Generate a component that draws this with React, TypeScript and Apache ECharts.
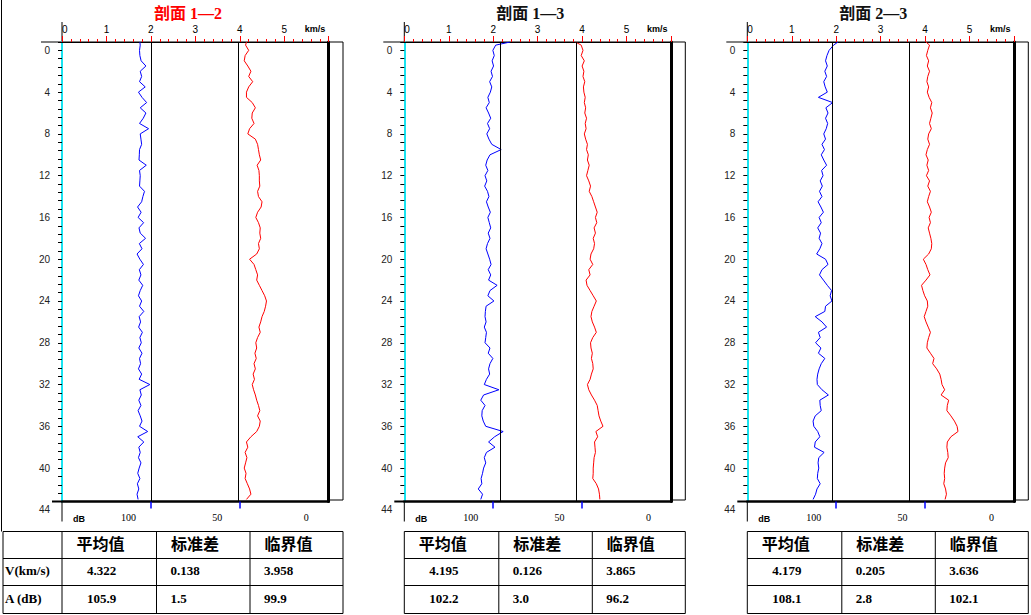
import React, { useEffect, useRef } from "react";
import * as echarts from "echarts";

// ---------- data ----------
const TITLES = ["剖面 1—2", "剖面 1—3", "剖面 2—3"];
const TITLE_COLORS = ["#ff0000", "#111111", "#111111"];

const DEPTH = [
  -0.8, -0.5, 0, 0.5, 1, 1.5, 2, 2.5, 3, 3.5,
  4, 4.5, 5, 5.5, 6, 6.5, 7, 7.5, 8, 8.5,
  9, 9.5, 10, 10.5, 11, 11.5, 12, 12.5, 13, 13.5,
  14, 14.5, 15, 15.5, 16, 16.5, 17, 17.5, 18, 18.5,
  19, 19.5, 20, 20.5, 21, 21.5, 22, 22.5, 23, 23.5,
  24, 24.5, 25, 25.5, 26, 26.5, 27, 27.5, 28, 28.5,
  29, 29.5, 30, 30.5, 31, 31.5, 32, 32.5, 33, 33.5,
  34, 34.5, 35, 35.5, 36, 36.5, 37, 37.5, 38, 38.5,
  39, 39.5, 40, 40.5, 41, 41.5, 42, 42.5, 43,
];

// amplitude A (dB), blue
const A_12 = [
  106.2, 106.0, 106.4, 106.2, 105.5, 102.8, 106.0, 105.2, 106.4, 103.2,
  107.0, 105.0, 102.4, 106.0, 102.8, 104.3, 106.4, 101.3, 106.0, 105.6,
  105.2, 106.4, 106.5, 106.7, 102.6, 106.4, 106.0, 106.2, 106.4, 103.6,
  104.5, 105.2, 107.5, 105.5, 107.2, 104.1, 106.7, 106.0, 103.0, 106.5,
  105.0, 107.8, 106.2, 104.2, 106.5, 105.6, 106.8, 104.6, 106.0, 107.0,
  105.2, 106.4, 104.0, 106.6, 105.8, 106.9, 104.8, 106.2, 105.4, 106.8,
  105.0, 106.4, 105.8, 107.0, 105.2, 106.6, 100.6, 106.2, 105.4, 106.8,
  105.6, 107.2, 106.0, 105.0, 106.4, 101.8, 107.4, 104.0, 106.8, 106.0,
  107.0, 105.6, 106.6, 107.4, 106.2, 107.6, 106.8, 107.8, 107.2,
];
const A_13 = [
  90.5, 98.6, 100.2, 99.4, 100.6, 99.8, 101.2, 100.4, 102.0, 100.8,
  101.6, 103.0, 102.2, 104.0, 102.6, 101.4, 103.2, 102.0, 103.6, 102.4,
  100.8, 95.5, 101.8, 103.4, 104.2, 103.0, 104.6, 103.6, 104.8, 103.2,
  102.4, 103.8, 102.8, 101.6, 103.0, 102.2, 101.4, 102.8, 101.8, 103.2,
  104.0, 103.0, 102.0, 101.2, 102.8, 101.4, 102.6, 97.8, 101.8, 103.0,
  99.6, 104.0, 104.4, 104.6, 104.0, 105.0, 103.8, 104.2, 104.6, 101.8,
  102.8, 100.2, 101.8, 102.6, 102.0, 103.8, 105.0, 96.8, 105.4, 107.0,
  104.6, 106.2, 106.4, 105.6, 104.2, 94.4, 99.2, 102.6, 99.0, 103.8,
  105.0, 104.2, 105.4, 106.0, 106.8, 106.4, 108.4, 106.0, 107.0,
];
const A_23 = [
  99.0, 101.5, 104.0, 105.2, 106.0, 105.0, 106.4, 105.4, 107.0, 106.2,
  105.0, 110.0, 102.0, 105.8, 104.6, 106.0, 104.8, 105.6, 107.0, 106.0,
  108.0, 106.6, 108.4, 107.0, 105.4, 108.2, 107.4, 109.0, 107.8, 109.4,
  108.0, 110.2, 108.6, 107.2, 109.6, 108.4, 110.4, 108.8, 109.6, 108.0,
  109.2, 111.0, 106.0, 104.6, 108.0, 109.4, 107.2, 105.0, 102.6, 103.4,
  102.4, 106.0, 106.4, 111.8, 108.0, 105.4, 110.0, 109.0, 111.6, 108.6,
  110.0, 106.4, 108.4, 109.6, 110.4, 110.8, 110.6, 108.0, 104.4, 109.2,
  109.0, 108.4, 111.8, 113.0, 112.6, 110.4, 109.2, 111.8, 112.2, 106.8,
  109.8, 110.2, 109.8, 110.4, 110.6, 109.0, 110.8, 111.6, 113.0,
];

// velocity V (km/s), red
const V_12 = [
  4.15, 4.13, 4.20, 4.12, 4.10, 4.18, 4.25, 4.20, 4.29, 4.20,
  4.15, 4.15, 4.28, 4.35, 4.28, 4.27, 4.32, 4.22, 4.18, 4.35,
  4.40, 4.42, 4.44, 4.47, 4.39, 4.43, 4.44, 4.44, 4.45, 4.40,
  4.42, 4.50, 4.48, 4.40, 4.36, 4.42, 4.46, 4.45, 4.47, 4.42,
  4.44, 4.38, 4.22, 4.32, 4.36, 4.40, 4.38, 4.44, 4.50, 4.56,
  4.60, 4.58, 4.55, 4.50, 4.47, 4.43, 4.46, 4.40, 4.36, 4.38,
  4.34, 4.37, 4.32, 4.35, 4.30, 4.33, 4.28, 4.31, 4.35, 4.38,
  4.42, 4.45, 4.40, 4.46, 4.44, 4.38, 4.25, 4.15, 4.18, 4.12,
  4.16, 4.13, 4.10, 4.14, 4.12, 4.17, 4.22, 4.25, 4.15,
];
const V_13 = [
  3.85, 3.98, 4.02, 3.98, 4.05, 4.00, 4.04, 4.02, 4.06, 4.03,
  4.04, 4.07, 4.05, 4.08, 4.06, 4.10, 4.07, 4.09, 4.05, 4.08,
  4.12, 4.10, 4.14, 4.12, 4.16, 4.13, 4.10, 4.15, 4.19, 4.16,
  4.22, 4.26, 4.30, 4.34, 4.30, 4.33, 4.27, 4.30, 4.25, 4.28,
  4.26, 4.20, 4.18, 4.24, 4.15, 4.18, 4.09, 4.11, 4.18, 4.25,
  4.32, 4.27, 4.22, 4.20, 4.23, 4.28, 4.32, 4.24, 4.19, 4.20,
  4.23, 4.21, 4.24, 4.25, 4.21, 4.18, 4.12, 4.15, 4.21, 4.28,
  4.34, 4.36, 4.38, 4.42, 4.47, 4.31, 4.35, 4.28, 4.29, 4.30,
  4.27, 4.26, 4.25, 4.25, 4.24, 4.32, 4.37, 4.39, 4.40,
];
const V_23 = [
  4.02, 4.10, 4.06, 4.03, 4.08, 4.05, 4.10, 4.06, 4.04, 4.08,
  4.05, 4.09, 4.15, 4.12, 4.16, 4.13, 4.10, 4.14, 4.08, 4.06,
  4.10, 4.05, 4.02, 4.07, 4.04, 4.08, 4.03, 4.10, 4.06, 4.12,
  4.08, 4.05, 4.10, 4.14, 4.09, 4.12, 4.07, 4.10, 4.13, 4.15,
  4.14, 4.08, 3.96, 4.02, 4.06, 4.11, 4.02, 3.92, 3.95, 3.99,
  4.05, 4.06, 4.02, 3.98, 4.02, 4.07, 4.12, 4.08, 4.05, 4.04,
  4.12, 4.20, 4.17, 4.26, 4.33, 4.36, 4.38, 4.44, 4.36, 4.53,
  4.50, 4.49, 4.58, 4.66, 4.72, 4.74, 4.58, 4.50, 4.49, 4.51,
  4.52, 4.46, 4.44, 4.43, 4.44, 4.42, 4.46, 4.48, 4.45,
];

const A_SERIES = [A_12, A_13, A_23];
const V_SERIES = [V_12, V_13, V_23];

// statistics table
const TABLE_HEAD = ["平均值", "标准差", "临界值"];
const ROW_LABELS = ["V(km/s)", "A (dB)"];
const V_MEAN = ["4.322", "4.195", "4.179"];
const V_STD = ["0.138", "0.126", "0.205"];
const V_CRIT = [3.958, 3.865, 3.636];
const A_MEAN = ["105.9", "102.2", "108.1"];
const A_STD = ["1.5", "3.0", "2.8"];
const A_CRIT = [99.9, 96.2, 102.1];

const V_TICKS = [0, 1, 2, 3, 4, 5];
const DB_LABELS = [0, 50, 100];
const DB_TICKS = [50, 100];
const DEPTH_LABELS = [0, 4, 8, 12, 16, 20, 24, 28, 32, 36, 40, 44];

// ---------- layout ----------
const W = 1031;
const H = 615;
const X0 = [62, 404.3, 747.3];
const PW = 266.7;
const OUT = 281;
const TOP = 42;
const PH = 459.5;
const DMIN = -0.8;
const DMAX = 43.2;
const LMAX = 44;
const LH = (PH * (LMAX - DMIN)) / (DMAX - DMIN);

const SANS = '"Liberation Sans", Arial, sans-serif';
const SERIF = '"Liberation Serif", "Times New Roman", serif';
const CJK = '"Noto Sans CJK SC", sans-serif';

function line(x1: number, y1: number, x2: number, y2: number, w = 1, c = "#000") {
  return {
    type: "line",
    silent: true,
    shape: { x1, y1, x2, y2 },
    style: { stroke: c, lineWidth: w },
  };
}
function text(t: string, x: number, y: number, font: string, fill = "#000", align = "left") {
  return {
    type: "text",
    silent: true,
    x,
    y,
    style: {
      text: t,
      font,
      fill,
      textAlign: align,
      align,
      textVerticalAlign: "middle",
      verticalAlign: "middle",
    },
  };
}

function buildOption() {
  const grid: any[] = [];
  const xAxis: any[] = [];
  const yAxis: any[] = [];
  const series: any[] = [];
  const graphic: any[] = [];

  for (let i = 0; i < 3; i++) {
    const x0 = X0[i];
    grid.push({ left: x0, top: TOP, width: PW, height: PH });
    grid.push({ left: x0, top: TOP, width: PW, height: LH });

    // km/s axis (top)
    xAxis.push({
      type: "value",
      gridIndex: 2 * i,
      position: "top",
      min: 0,
      max: 6,
      interval: 1,
      axisLine: { show: true, onZero: false, lineStyle: { color: "#000", width: 1 } },
      axisTick: { show: true, length: 6, lineStyle: { color: "#ff0000", width: 1 } },
      minorTick: { show: true, splitNumber: 5, length: 3, lineStyle: { color: "#ff0000", width: 1 } },
      axisLabel: {
        show: true,
        customValues: V_TICKS,
        color: "#000",
        fontSize: 10,
        fontFamily: SANS,
        margin: 8,
        alignMinLabel: "left",
      },
      splitLine: { show: false },
      minorSplitLine: { show: false },
    });
    // dB axis (bottom)
    xAxis.push({
      type: "value",
      gridIndex: 2 * i,
      position: "bottom",
      min: 0,
      max: 150,
      inverse: true,
      axisLine: { show: true, onZero: false, lineStyle: { color: "#000", width: 2.5 } },
      axisTick: { show: true, customValues: DB_TICKS, length: 7, lineStyle: { color: "#0000ff", width: 1.5 } },
      axisLabel: {
        show: true,
        customValues: DB_LABELS,
        color: "#000",
        fontSize: 10,
        fontFamily: SERIF,
        margin: 11,
        padding: [0, 45, 0, 0],
      },
      splitLine: { show: false },
    });
    // hidden x for label grid
    xAxis.push({ type: "value", gridIndex: 2 * i + 1, show: false, min: 0, max: 1 });

    // depth axis
    yAxis.push({
      type: "value",
      gridIndex: 2 * i,
      position: "left",
      inverse: true,
      min: DMIN,
      max: DMAX,
      interval: 0.8,
      axisLine: { show: true, onZero: false, lineStyle: { color: "#19e3f0", width: 2 } },
      axisTick: { show: true, length: 4, lineStyle: { color: "#000", width: 1 } },
      axisLabel: { show: false },
      splitLine: { show: false },
    });
    // right thick border
    yAxis.push({
      type: "value",
      gridIndex: 2 * i,
      position: "right",
      min: 0,
      max: 1,
      axisLine: { show: true, onZero: false, lineStyle: { color: "#000", width: 3 } },
      axisTick: { show: false },
      axisLabel: { show: false },
      splitLine: { show: false },
    });
    // depth labels
    yAxis.push({
      type: "value",
      gridIndex: 2 * i + 1,
      position: "left",
      inverse: true,
      min: DMIN,
      max: LMAX,
      axisLine: { show: false },
      axisTick: { show: false },
      axisLabel: {
        show: true,
        customValues: DEPTH_LABELS,
        color: "#222",
        fontSize: 10,
        fontFamily: SANS,
        margin: 12,
      },
      splitLine: { show: false },
    });

    const A = A_SERIES[i];
    const V = V_SERIES[i];
    series.push({
      type: "line",
      name: "A" + i,
      xAxisIndex: 3 * i + 1,
      yAxisIndex: 3 * i,
      data: DEPTH.map((d, k) => [A[k], d]),
      showSymbol: false,
      symbol: "none",
      lineStyle: { color: "#0000ff", width: 1 },
      markLine: {
        silent: true,
        symbol: ["none", "none"],
        label: { show: false },
        lineStyle: { color: "#000", width: 1, type: "solid" },
        data: [{ xAxis: A_CRIT[i] }],
      },
    });
    series.push({
      type: "line",
      name: "V" + i,
      xAxisIndex: 3 * i,
      yAxisIndex: 3 * i,
      data: DEPTH.map((d, k) => [V[k], d]),
      showSymbol: false,
      symbol: "none",
      lineStyle: { color: "#ff0000", width: 1 },
      markLine: {
        silent: true,
        symbol: ["none", "none"],
        label: { show: false },
        lineStyle: { color: "#000", width: 1, type: "solid" },
        data: [{ xAxis: V_CRIT[i] }],
      },
    });

    // frame decorations
    const bottom = TOP + PH;
    graphic.push(line(x0 - 21, TOP, x0 + OUT, TOP, 1));
    graphic.push(line(x0, 22, x0, TOP, 1));
    graphic.push(line(x0 + OUT, TOP, x0 + OUT, bottom - 1.5, 1));
    graphic.push(line(x0 + PW, bottom - 1.5, x0 + OUT, bottom - 1.5, 1));
    graphic.push(line(x0 - 10, bottom, x0, bottom, 2));
    graphic.push(line(x0, bottom, x0, bottom + 20, 1));

    graphic.push(text(TITLES[i], x0 + 126, 13, "bold 16px " + '"Liberation Serif", "Noto Sans CJK SC", serif', TITLE_COLORS[i], "center"));
    graphic.push(text("km/s", x0 + 253, 29, "bold 9px " + SANS, "#000", "center"));
    graphic.push(text("dB", x0 + 17, 518.5, "bold 9px " + SANS, "#000", "center"));

    // table
    const cols = [x0, x0 + 94.5, x0 + 188, x0 + OUT];
    const rows = [531.5, 558.5, 585.5, 613.5];
    const left = i === 0 ? 3 : x0;
    rows.forEach((y) => graphic.push(line(left, y, x0 + OUT, y, 1)));
    cols.forEach((x) => graphic.push(line(x, rows[0], x, rows[3], 1)));
    if (i === 0) {
      graphic.push(line(3, rows[0], 3, rows[3], 1));
      graphic.push(text(ROW_LABELS[0], 5, 570, "bold 13px " + SERIF));
      graphic.push(text(ROW_LABELS[1], 5, 598, "bold 13px " + SERIF));
    }
    TABLE_HEAD.forEach((h, k) => graphic.push(text(h, cols[k] + 14.5, 543, "bold 16px " + CJK)));
    const vRow = [V_MEAN[i], V_STD[i], String(V_CRIT[i].toFixed(3))];
    const aRow = [A_MEAN[i], A_STD[i], String(A_CRIT[i].toFixed(1))];
    vRow.forEach((t, k) => graphic.push(text(t, cols[k] + (k === 0 ? 25 : 14), 570, "bold 13px " + SERIF)));
    aRow.forEach((t, k) => graphic.push(text(t, cols[k] + (k === 0 ? 25 : 14), 598, "bold 13px " + SERIF)));
  }
  // outer left line
  graphic.push(line(1.5, 0, 1.5, 531.5, 1));

  return {
    animation: false,
    backgroundColor: "#fff",
    grid,
    xAxis,
    yAxis,
    series,
    graphic,
  };
}

export default function App() {
  const ref = useRef<HTMLDivElement>(null);
  useEffect(() => {
    const chart = echarts.init(ref.current as HTMLDivElement, null, { renderer: "svg", width: W, height: H });
    chart.setOption(buildOption() as any);
    return () => chart.dispose();
  }, []);
  return (
    <div
      ref={ref}
      style={{ position: "fixed", left: 0, top: 0, width: W, height: H, background: "#fff" }}
    />
  );
}
